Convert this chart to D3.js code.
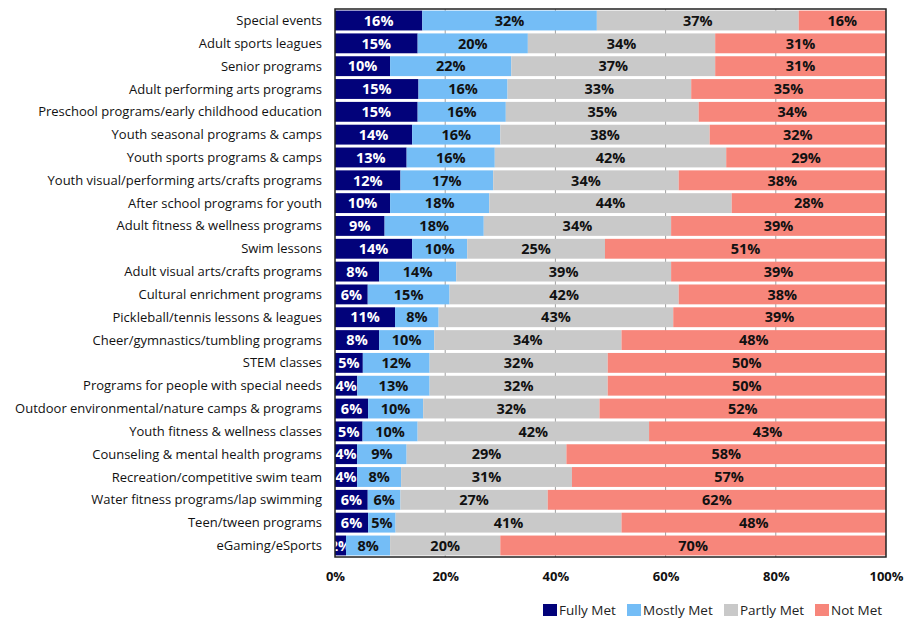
<!DOCTYPE html>
<html>
<head>
<meta charset="utf-8">
<script src="https://cdn.jsdelivr.net/npm/d3@7"></script>
<style>
  body { margin: 0; background: #fff; }
  text { font-family: "Open Sans", "Liberation Sans", Arial, sans-serif; }
</style>
</head>
<body>
<div id="chart"></div>
<script>
// categories, top to bottom
const categories = [
  "Special events", "Adult sports leagues", "Senior programs", "Adult performing arts programs",
  "Preschool programs/early childhood education", "Youth seasonal programs & camps",
  "Youth sports programs & camps", "Youth visual/performing arts/crafts programs",
  "After school programs for youth", "Adult fitness & wellness programs", "Swim lessons",
  "Adult visual arts/crafts programs", "Cultural enrichment programs",
  "Pickleball/tennis lessons & leagues", "Cheer/gymnastics/tumbling programs", "STEM classes",
  "Programs for people with special needs", "Outdoor environmental/nature camps & programs",
  "Youth fitness & wellness classes", "Counseling & mental health programs",
  "Recreation/competitive swim team", "Water fitness programs/lap swimming",
  "Teen/tween programs", "eGaming/eSports"
];

const seriesNames = ["Fully Met", "Mostly Met", "Partly Met", "Not Met"];
const fullyMet  = [16, 15, 10, 15, 15, 14, 13, 12, 10, 9, 14, 8, 6, 11, 8, 5, 4, 6, 5, 4, 4, 6, 6, 2];
const mostlyMet = [32, 20, 22, 16, 16, 16, 16, 17, 18, 18, 10, 14, 15, 8, 10, 12, 13, 10, 10, 9, 8, 6, 5, 8];
const partlyMet = [37, 34, 37, 33, 35, 38, 42, 34, 44, 34, 25, 39, 42, 43, 34, 32, 32, 32, 42, 29, 31, 27, 41, 20];
const notMet    = [16, 31, 31, 35, 34, 32, 29, 38, 28, 39, 51, 39, 38, 39, 48, 50, 50, 52, 43, 58, 57, 62, 48, 70];
const xTicks = [0, 0.2, 0.4, 0.6, 0.8, 1];

const colors = ["#02027a", "#74bdf6", "#c9c9c9", "#f7867b"];
const textColors = ["#ffffff", "#111111", "#111111", "#111111"];

const width = 905, height = 620;
const margin = { top: 9, right: 19, bottom: 63, left: 335 };

const svg = d3.select("#chart").append("svg")
  .attr("width", width)
  .attr("height", height);

// 100% stacked: each row is scaled to its own total
const x = d3.scaleLinear().domain([0, 1]).range([margin.left, width - margin.right]);
const y = d3.scaleBand().domain(categories).range([margin.top, height - margin.bottom]).paddingInner(0.13).paddingOuter(0.07);

const rows = categories.map((c, i) => ({
  cat: c, "Fully Met": fullyMet[i], "Mostly Met": mostlyMet[i], "Partly Met": partlyMet[i], "Not Met": notMet[i]
}));
const stacked = d3.stack().keys(seriesNames).offset(d3.stackOffsetExpand)(rows);

// gridlines
svg.append("g").selectAll("line")
  .data(xTicks.slice(1, -1))
  .join("line")
  .attr("x1", d => x(d)).attr("x2", d => x(d))
  .attr("y1", margin.top).attr("y2", height - margin.bottom)
  .attr("stroke", "#a0a0a0").attr("stroke-width", 1);

svg.append("clipPath").attr("id", "plotclip")
  .append("rect")
  .attr("x", margin.left).attr("y", margin.top)
  .attr("width", x(1) - margin.left).attr("height", height - margin.bottom - margin.top);

// bars
const layers = svg.append("g").attr("clip-path", "url(#plotclip)")
  .selectAll("g.layer")
  .data(stacked)
  .join("g")
  .attr("class", "layer");

layers.each(function (layer, li) {
  const g = d3.select(this);
  g.selectAll("rect")
    .data(layer)
    .join("rect")
    .attr("x", d => x(d[0]))
    .attr("y", d => y(d.data.cat))
    .attr("width", d => Math.max(0, x(d[1]) - x(d[0])))
    .attr("height", y.bandwidth())
    .attr("fill", colors[li]);

  g.selectAll("text")
    .data(layer)
    .join("text")
    .attr("x", d => (x(d[0]) + x(d[1])) / 2)
    .attr("y", d => y(d.data.cat) + y.bandwidth() / 2)
    .attr("dy", "0.36em")
    .attr("text-anchor", "middle")
    .attr("font-size", 14.5)
    .attr("font-weight", "bold")
    .attr("fill", textColors[li])
    .text(d => d.data[layer.key] + "%");
});

// plot border
svg.append("rect")
  .attr("x", margin.left).attr("y", margin.top)
  .attr("width", x(1) - margin.left).attr("height", height - margin.bottom - margin.top)
  .attr("fill", "none").attr("stroke", "#222").attr("stroke-width", 1.5);

// category labels
svg.append("g").selectAll("text")
  .data(categories)
  .join("text")
  .attr("x", margin.left - 13)
  .attr("y", d => y(d) + y.bandwidth() / 2)
  .attr("dy", "0.35em")
  .attr("text-anchor", "end")
  .attr("font-size", 13)
  .attr("fill", "#111")
  .text(d => d);

// x axis
const xAxis = svg.append("g")
  .attr("transform", `translate(0,${height - margin.bottom})`)
  .call(d3.axisBottom(x).tickValues(xTicks).tickFormat(d3.format(".0%")).tickSize(0).tickPadding(15));
xAxis.select(".domain").remove();
xAxis.selectAll("text")
  .attr("font-size", 13)
  .attr("font-weight", "bold")
  .attr("fill", "#111")
  .style("font-family", "'Open Sans', 'Liberation Sans', Arial, sans-serif");

// legend
const legendItems = [
  { name: "Fully Met", x: 543 },
  { name: "Mostly Met", x: 627 },
  { name: "Partly Met", x: 724 },
  { name: "Not Met", x: 815 }
];
const legend = svg.append("g").attr("transform", "translate(0,610)");
legendItems.forEach((it, i) => {
  legend.append("rect")
    .attr("x", it.x).attr("y", -6)
    .attr("width", 14).attr("height", 12)
    .attr("fill", colors[i]);
  legend.append("text")
    .attr("x", it.x + 16).attr("y", 0)
    .attr("dy", "0.35em")
    .attr("font-size", 13.5)
    .attr("fill", "#222")
    .text(it.name);
});
</script>
</body>
</html>
